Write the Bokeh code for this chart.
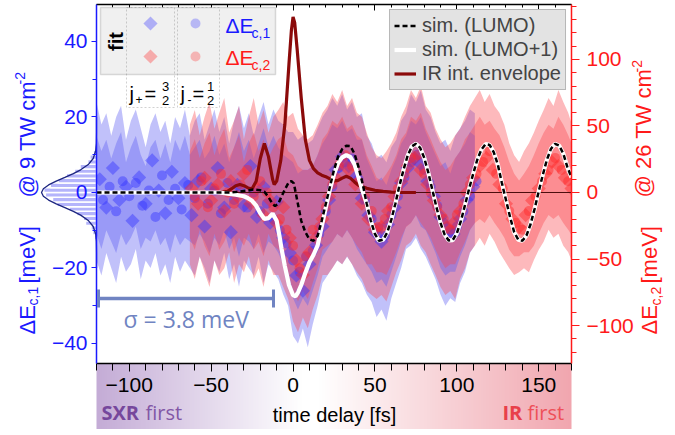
import numpy as np
from bokeh.plotting import figure
from bokeh.models import (Range1d, LinearAxis, SingleIntervalTicker, Legend, LegendItem,
                          BoxAnnotation, Label, Arrow, TeeHead, CustomJSTickFormatter)
from bokeh.layouts import row
from bokeh.embed import file_html
from bokeh.resources import INLINE

# ---------------- data ----------------
sigma_meV = 3.8

# simulation LUMO (left axis, meV)
lumo_t = [-120, -38, -33, -28, -24, -20, -17.5, -15, -12.5, -11,
          -9, -7.5, -5, -2.5, -1, 0.5, 2.5, 5, 7.5, 10,
          12.5, 15, 17.5, 20, 22.5, 25, 27.5, 30, 32.5, 35,
          37.5, 40, 42.5, 45, 47.5, 50, 52.5, 55, 57.5, 60,
          62.5, 65, 67.5, 70, 72.5, 75, 77.5, 80, 82.5, 85,
          87.5, 90, 92.5, 95, 97.5, 100, 102.5, 105, 107.5, 110,
          112.5, 115, 117.5, 120, 122.5, 125, 127.5, 130, 132.5, 135,
          137.5, 140, 142.5, 145, 147.5, 150, 152.5, 155, 157.5, 160,
          162.5, 165, 167.5, 170]
lumo_e = [0, 0, 0.2, 0.5, 0.8, 0.6, 0.2, -1.2, -3.0, -3.6,
          -3.0, -1.5, 0.8, 2.8, 3.0, 2.4, -2.0, -7.5, -10.5, -12.4,
          -12.8, -11.5, -7.5, -3.0, 1.5, 6.0, 9.5, 11.5, 12.4, 12.3,
          10.3, 6.7, 2.3, -3.0, -7.5, -11.0, -12.8, -12.5, -10.6, -7.2,
          -2.9, 1.9, 6.1, 9.8, 12.2, 12.9, 11.9, 9.3, 5.4, 0.8,
          -3.8, -8.0, -11.1, -12.7, -12.6, -10.8, -7.5, -3.3, 1.0, 5.0,
          8.7, 11.4, 12.8, 12.6, 10.7, 7.4, 2.5, -2.0, -6.5, -10.5,
          -12.5, -12.8, -11.4, -8.4, -4.3, 0.3, 4.7, 8.7, 11.6, 12.9,
          12.4, 10.3, 6.7, 4.0]

# simulation LUMO+1 (differs up to 45 fs, coincides afterwards)
lumo1_t_early = [-120, -45, -40, -35, -30, -27.5, -25, -22.5, -20, -17.5,
                 -15, -12.5, -10, -8.5, -7, -5, -2.5, 0, 1.5, 3,
                 5, 7.5, 10, 12.5, 15, 17.5, 20, 22.5, 25, 27.5,
                 30, 32.5, 35, 37.5, 40, 42.5, 45]
lumo1_e_early = [0, 0, -0.3, -0.6, -1.0, -1.5, -2.2, -3.5, -5.5, -7.0,
                 -6.8, -5.6, -7.5, -11.0, -15.0, -19.5, -24.5, -27.2, -27.5, -26.5,
                 -24.5, -21.3, -18.5, -16.5, -14.0, -9.0, -4.0, 0.8, 4.8, 7.8,
                 9.3, 9.9, 9.4, 7.5, 4.0, 0.3, -3.0]
lumo1_t = lumo1_t_early + [t for t in lumo_t if t > 45]
lumo1_e = lumo1_e_early + [e for t, e in zip(lumo_t, lumo_e) if t > 45]

# IR intensity envelope (arb. units on left scale)
ir_t = [-45, -40, -37.5, -35, -32.5, -30, -27.5, -25, -22.5, -20,
        -17.5, -15, -12.5, -11.5, -10, -7.5, -5, -2.5, -1, 0,
        1, 2.5, 5, 7.5, 10, 12.5, 15, 17.5, 20, 22.5,
        25, 27.5, 30, 32.5, 35, 37.5, 40, 45, 50, 55,
        60, 65, 75]
ir_v = [0, 0.3, 1.0, 1.8, 2.1, 1.8, 1.2, 1.0, 3.0, 9.0,
        13.0, 9.5, 3.5, 2.1, 3.0, 8.5, 18.0, 34.0, 43.0, 46.5,
        45.0, 38.0, 25.0, 14.0, 8.5, 6.3, 5.2, 4.6, 4.2, 3.6,
        3.1, 3.2, 3.8, 4.3, 3.8, 2.8, 1.9, 1.1, 0.6, 0.3,
        0.1, 0.05, 0]

# measured dE_c,1 (left axis) - j+ fit (diamonds) and j- fit (circles)
b_dia_t = [-118, -114, -110, -106, -102, -98, -94, -90, -86, -82,
           -78, -74, -70, -66, -62, -58, -54, -50, -46, -42,
           -38, -34, -30, -26, -22, -18, -14, -10, -6, -2,
           2, 6, 10, 14, 18, 22, 26, 30, 34, 38,
           42, 46, 50, 54, 58, 62, 66, 70, 74, 78,
           82, 86, 90, 94, 98, 102, 106, 110]
b_dia_e = [3.5, -4.0, 6.5, -2.0, 1.5, -7.5, 4.0, -3.0, 8.5, 0.5,
           -5.5, 5.5, -1.5, 2.5, -6.0, 3.0, -9.0, 1.0, 6.5, -4.0,
           -10.5, 2.0, -3.5, 7.0, -6.5, 1.5, -8.0, -2.5, -12.0, -16.0,
           -22.0, -26.0, -19.0, -14.0, -9.0, -2.0, 6.0, 9.5, 7.0, 4.0,
           -1.5, -6.0, -10.5, -13.0, -8.5, -4.0, 2.5, 6.5, 9.0, 7.5,
           3.0, -1.0, -6.5, -9.5, -11.0, -7.0, -2.0, 1.5]
b_cir_t = [-116, -112, -108, -104, -100, -96, -92, -88, -84, -80,
           -76, -72, -68, -64, -60, -56, -52, -48, -44, -40,
           -36, -32, -28, -24, -20, -16, -12, -8, -4, 0,
           4, 8, 12, 16, 20, 24, 28, 32, 36, 40,
           44, 48, 52, 56, 60, 64, 68, 72, 76, 80,
           84, 88, 92, 96, 100, 104, 108, 112]
b_cir_e = [-2.0, 1.5, -5.0, 3.0, -1.0, 2.5, -3.5, 0.5, -6.5, 4.5,
           -2.0, 1.0, -4.5, 2.0, -1.5, 4.0, -3.0, 0.5, -5.5, 2.5,
           -2.0, 1.0, -4.0, 0.0, -5.0, -3.0, -7.0, -10.0, -13.5, -18.0,
           -21.0, -17.0, -15.5, -11.0, -5.0, 1.5, 6.5, 8.0, 9.0, 3.5,
           -2.0, -7.0, -9.5, -11.5, -6.0, -1.0, 4.0, 8.0, 10.0, 6.0,
           1.5, -3.5, -8.0, -10.5, -9.0, -5.0, -1.0, 3.0]

# measured dE_c,2 (right axis)
r_dia_t = [-62, -58, -54, -50, -46, -42, -38, -34, -30, -26,
           -22, -18, -14, -10, -6, -2, 2, 6, 10, 14,
           18, 22, 26, 30, 34, 38, 42, 46, 50, 54,
           58, 62, 66, 70, 74, 78, 82, 86, 90, 94,
           98, 102, 106, 110, 114, 118, 122, 126, 130, 134,
           138, 142, 146, 150, 154, 158, 162, 166, 170]
r_dia_e = [3, -8.5, 11, -6, 6, -14, 8.5, -3, 14, -8.5,
           3, -17, -6, -23, -11, -34, -51, -62, -45, -34,
           -20, -3, 11, 23, 17, 6, -8.5, -20, -28, -26,
           -14, -3, 8.5, 20, 26, 17, 6, -6, -17, -26,
           -23, -14, 0, 11, 20, 26, 17, 6, -8.5, -20,
           -26, -17, -6, 3, 14, 23, 20, 11, 3]
r_cir_t = [-60, -56, -52, -48, -44, -40, -36, -32, -28, -24,
           -20, -16, -12, -8, -4, 0, 4, 8, 12, 16,
           20, 24, 28, 32, 36, 40, 44, 48, 52, 56,
           60, 64, 68, 72, 76, 80, 84, 88, 92, 96,
           100, 104, 108, 112, 116, 120, 124, 128, 132, 136,
           140, 144, 148, 152, 156, 160, 164, 168]
r_cir_e = [-3, 8.5, -11, 3, 14, 0, -8.5, 6, 17, -3,
           8.5, 0, -11, -20, -28, -40, -57, -48, -28, -26,
           -11, 6, 20, 28, 20, 8.5, -3, -14, -26, -20,
           -11, 3, 14, 26, 28, 14, 0, -11, -20, -28,
           -17, -8.5, 6, 14, 23, 31, 14, 3, -14, -23,
           -28, -14, -3, 8.5, 17, 26, 17, 8.5]

# confidence bands dE_c,1 (left axis)
band_b_t = [-120, -117, -114, -111, -108, -105, -102, -99, -96, -93,
            -90, -87, -84, -81, -78, -75, -72, -69, -66, -63,
            -60, -57, -54, -51, -48, -45, -42, -39, -36, -33,
            -30, -27, -24, -21, -18, -15, -12, -9, -6, -3,
            0, 3, 6, 9, 12, 15, 18, 21, 24, 27,
            30, 33, 36, 39, 42, 45, 48, 51, 54, 57,
            60, 63, 66, 69, 72, 75, 78, 81, 84, 87,
            90, 93, 96, 99, 102, 105, 108, 111]
band_b_out_hi = [24, 18, 21, 15, 20, 23, 14, 19, 22, 17, 12, 18, 21, 16, 19, 13, 20, 17, 22, 15,
                 19, 21, 14, 18, 22, 16, 20, 13, 19, 23, 17, 21, 15, 20, 24, 18, 22,
                 19, 18, 16, 16, 14, 15, 13, 14, 17, 20, 22, 25, 23, 26, 22, 24, 20, 21, 15, 13,
                 9, 10, 8, 12, 14, 19, 21, 26, 24, 27, 22, 20, 16, 13, 14, 11, 15, 17, 19, 22, 21]
band_b_out_lo = [-18, -22, -16, -20, -24, -17, -21, -19, -15, -23, -18, -20, -16, -22, -19, -24, -17, -21, -18, -20,
                 -22, -17, -20, -24, -18, -21, -16, -23, -19, -25, -18, -20, -22, -17, -24, -19, -21,
                 -23, -27, -30, -38, -40, -36, -41, -35, -30, -24, -22, -20, -18, -19, -17, -19, -22, -24, -27, -29,
                 -33, -31, -34, -28, -24, -20, -15, -14, -12, -15, -17, -20, -23, -27, -30, -28, -29, -24, -21, -16, -14]
band_b_in_hi = [15, 11, 14, 9, 13, 16, 8, 12, 15, 10, 7, 12, 14, 9, 13, 8, 14, 11, 15, 10,
                12, 14, 9, 11, 15, 10, 13, 8, 12, 16, 11, 14, 9, 13, 17, 12, 15,
                12, 10, 9, 8, 5, 6, 6, 7, 10, 13, 15, 18, 17, 19, 16, 17, 14, 14, 9, 6,
                3, 4, 2, 6, 9, 13, 15, 19, 18, 20, 16, 13, 10, 7, 8, 5, 9, 11, 13, 16, 15]
band_b_in_lo = [-11, -15, -10, -13, -16, -11, -14, -12, -9, -15, -12, -13, -10, -14, -12, -16, -11, -14, -12, -13,
                -14, -11, -13, -16, -12, -14, -10, -15, -12, -17, -12, -13, -15, -11, -16, -13, -14,
                -16, -19, -22, -28, -31, -28, -30, -26, -22, -17, -15, -13, -11, -12, -10, -12, -15, -17, -19, -21,
                -24, -23, -25, -21, -17, -13, -9, -8, -6, -9, -10, -13, -16, -20, -22, -21, -21, -17, -14, -10, -8]

# confidence bands dE_c,2 (right axis)
band_r_t = [-63, -60, -57, -54, -51, -48, -45, -42, -39, -36,
            -33, -30, -27, -24, -21, -18, -15, -12, -9, -6,
            -3, 0, 3, 6, 9, 12, 15, 18, 21, 24,
            27, 30, 33, 36, 39, 42, 45, 48, 51, 54,
            57, 60, 63, 66, 69, 72, 75, 78, 81, 84,
            87, 90, 93, 96, 99, 102, 105, 108, 111, 114,
            117, 120, 123, 126, 129, 132, 135, 138, 141, 144,
            147, 150, 153, 156, 159, 162, 165, 168, 171]
band_r_out_hi = [51, 62, 43, 57, 68, 48, 60, 71, 45, 54, 65, 40, 57, 71, 51, 62, 45, 57,
                 62, 68, 57, 60, 48, 43, 40, 43, 51, 60, 65, 74, 68, 77, 65, 71, 60, 57, 45, 34,
                 28, 26, 31, 37, 45, 57, 65, 77, 71, 80, 65, 60, 48, 40, 34, 37, 43, 48, 57, 65,
                 71, 77, 68, 74, 65, 60, 51, 37, 28, 23, 31, 37, 45, 54, 62, 71, 65, 77, 68, 60, 48]
band_r_out_lo = [-54, -65, -48, -60, -71, -51, -62, -57, -45, -68, -54, -60, -48, -65, -57, -71, -51, -62,
                 -62, -71, -80, -97, -105, -94, -102, -88, -77, -62, -62, -57, -51, -54, -48, -54, -60, -65, -74, -77,
                 -80, -77, -82, -71, -60, -51, -40, -37, -31, -40, -45, -54, -62, -71, -77, -74, -80, -65, -57, -45,
                 -40, -34, -40, -31, -37, -45, -51, -57, -62, -60, -57, -60, -51, -43, -37, -28, -34, -31, -40, -45, -54]
band_r_in_hi = [31, 40, 26, 37, 45, 28, 40, 48, 26, 34, 43, 23, 37, 45, 31, 40, 26, 34,
                40, 43, 31, 28, 20, 17, 17, 20, 28, 40, 45, 54, 51, 57, 48, 51, 43, 40, 28, 20,
                11, 9, 14, 20, 28, 40, 45, 57, 54, 60, 48, 40, 31, 23, 17, 20, 26, 31, 40, 45,
                51, 57, 51, 54, 48, 43, 34, 23, 14, 9, 14, 20, 28, 37, 45, 51, 48, 57, 51, 43, 34]
band_r_in_lo = [-34, -43, -28, -40, -48, -31, -43, -37, -28, -45, -34, -40, -31, -43, -37, -48, -31, -40,
                -43, -51, -60, -74, -82, -74, -80, -68, -57, -43, -40, -37, -31, -34, -28, -34, -40, -45, -54, -54,
                -60, -60, -62, -54, -45, -34, -26, -23, -17, -23, -28, -34, -43, -51, -57, -54, -54, -45, -37, -28,
                -23, -20, -23, -17, -23, -28, -34, -43, -48, -48, -45, -45, -40, -31, -23, -17, -20, -17, -23, -28, -34]

# histogram of dE_c,1 before time zero (normalised counts)
hist_e = [-11.875, -10.625, -9.375, -8.125, -6.875, -5.625, -4.375, -3.125, -1.875, -0.625,
          0.625, 1.875, 3.125, 4.375, 5.625, 6.875, 8.125, 9.375, 10.625, 11.875]
hist_n = [0.04, 0.07, 0.1, 0.2, 0.24, 0.36, 0.5, 0.72, 0.8, 0.93,
          0.96, 0.84, 0.7, 0.55, 0.4, 0.3, 0.16, 0.12, 0.06, 0.03]
# gaussian fit (sigma = 3.8 meV), normalised
gauss_e = [-20, -16, -13, -11, -9, -7.5, -6, -5, -4, -3, -2, -1, 0,
           1, 2, 3, 4, 5, 6, 7.5, 9, 11, 13, 16, 20]
gauss_n = [0.0, 0.0001, 0.003, 0.015, 0.060, 0.143, 0.288, 0.421, 0.575, 0.732, 0.871, 0.966, 1.0,
           0.966, 0.871, 0.732, 0.575, 0.421, 0.288, 0.143, 0.060, 0.015, 0.003, 0.0001, 0.0]

# ---------------- geometry ----------------
X0, X1 = -120, 170
Y0, Y1 = -45.3, 49.8
RATIO = 2.838
W, H = 669, 429
FL, FT, FW, FH = 96, 4, 475, 359
FR = W - FL - FW
FBm = H - FT - FH
sx = (X1 - X0) / FW
sy = (Y1 - Y0) / FH
HIST_PX = 55.0

REF_L, REF_R, REF_T, REF_B = 98, 573, 5, 364
def rx(px):
    return X0 + (px - REF_L) * (X1 - X0) / (REF_R - REF_L)
def ry(py):
    return Y1 - (py - REF_T) * (Y1 - Y0) / (REF_B - REF_T)

SANS = "Liberation Sans"
OPEN = "Open Sans"
BLUE = "#1a1aff"
RED = "#ff1a1a"

def put(fig, text, px, py, size, color, font=SANS, style="normal", angle=0.0,
        align="left", baseline="middle"):
    fig.add_layout(Label(x=rx(px), y=ry(py), text=text, text_font=font,
                         text_font_size=f"{size}px", text_color=color,
                         text_font_style=style, angle=angle,
                         text_align=align, text_baseline=baseline))

# ---------------- underlay figure (decorations outside the frame) ----------------
A = figure(width=W, height=H, x_range=Range1d(X0 - FL * sx, X1 + FR * sx),
           y_range=Range1d(Y0 - FBm * sy, Y1 + FT * sy),
           x_axis_location=None, y_axis_location=None,
           toolbar_location=None, output_backend="svg", min_border=0)
A.min_border_left = A.min_border_right = A.min_border_top = A.min_border_bottom = 0
A.frame_align = False
A.grid.visible = False
A.outline_line_color = None
A.background_fill_color = "white"
A.border_fill_color = "white"
A.extra_x_ranges = {"hist": Range1d(FL / HIST_PX, -(W - FL) / HIST_PX)}

# gradient under the time axis
N = 290
img = np.zeros((1, N), dtype=np.uint32)
view = img.view(dtype=np.uint8).reshape((1, N, 4))
Lc = np.array([196, 172, 214.0])
Wc = np.array([255, 255, 255.0])
Rc = np.array([241, 166, 175.0])
for i in range(N):
    f = (i + 0.5) / N
    if f < 0.43:
        t = f / 0.43
        c = Lc * (1 - t) + Wc * t
    elif f < 0.47:
        c = Wc
    else:
        t = (f - 0.47) / 0.53
        c = Wc * (1 - t) + Rc * t
    view[0, i, 0:3] = c.astype(np.uint8)
    view[0, i, 3] = 255
A_ybot = Y0 - FBm * sy
A.image_rgba(image=[img], x=X0, y=A_ybot, dw=X1 - X0, dh=Y0 - A_ybot)

# histogram + gaussian
A.hbar(y=hist_e, left=0, right=hist_n, height=1.25, x_range_name="hist",
       fill_color="#b4b4fb", line_color="white", line_width=1.5)
A.line(x=gauss_n, y=gauss_e, x_range_name="hist", line_color="#1c2580", line_width=1.3)

# axis titles
put(A, "ΔE", 28.5, 335, 22, BLUE, angle=np.pi / 2)
put(A, "c,1", 34, 306, 14, BLUE, angle=np.pi / 2)
put(A, "[meV]", 28.5, 284, 22, BLUE, angle=np.pi / 2)
put(A, "@ 9 TW cm", 28.5, 198, 22, BLUE, angle=np.pi / 2)
put(A, "-2", 21.5, 85, 14, BLUE, angle=np.pi / 2)

put(A, "ΔE", 651, 335, 22, RED, angle=np.pi / 2)
put(A, "c,2", 657, 306, 14, RED, angle=np.pi / 2)
put(A, "[meV]", 651, 284, 22, RED, angle=np.pi / 2)
put(A, "@ 26 TW cm", 645, 198, 22, RED, angle=np.pi / 2)
put(A, "-2", 638, 73, 14, RED, angle=np.pi / 2)

put(A, "time delay [fs]", 336, 415, 20, "black", align="center")
put(A, "SXR", 103, 413, 20, "#76479c", font=OPEN, style="bold")
put(A, "first", 147, 413, 20, "#8257a6", font=OPEN)
put(A, "IR", 504, 413, 20, "#e8404a", font=OPEN, style="bold")
put(A, "first", 529, 413, 20, "#ee5058", font=OPEN)

# ---------------- main figure ----------------
B = figure(width=W, height=H, x_range=Range1d(X0, X1), y_range=Range1d(Y0, Y1),
           toolbar_location=None, output_backend="svg",
           min_border_left=FL, min_border_right=FR, min_border_top=FT, min_border_bottom=FBm)
B.frame_align = False
B.extra_y_ranges = {"r": Range1d(Y0 * RATIO, Y1 * RATIO)}
B.grid.visible = False
B.outline_line_color = None
B.background_fill_alpha = 0
B.border_fill_alpha = 0
B.margin = (0, 0, 0, -W)

xa = B.xaxis[0]
xa.ticker = SingleIntervalTicker(interval=50, num_minor_ticks=5)
xa.axis_line_color = "black"; xa.axis_line_width = 1.5
xa.major_tick_line_color = "black"; xa.minor_tick_line_color = "black"
xa.major_tick_out = 8; xa.major_tick_in = 0; xa.minor_tick_out = 7; xa.minor_tick_in = 0
xa.major_label_text_font = SANS; xa.major_label_text_font_size = "21px"
xa.major_label_text_color = "black"; xa.major_label_standoff = 6

ya = B.yaxis[0]
ya.ticker = SingleIntervalTicker(interval=20, num_minor_ticks=2)
ya.axis_line_color = BLUE; ya.axis_line_width = 1.5
ya.major_tick_line_color = BLUE; ya.minor_tick_line_color = BLUE
ya.major_tick_out = 5; ya.major_tick_in = 0; ya.minor_tick_out = 4; ya.minor_tick_in = 0
ya.major_label_text_font = SANS; ya.major_label_text_font_size = "21px"
ya.major_label_text_color = BLUE; ya.major_label_standoff = 4

ra = LinearAxis(y_range_name="r", ticker=SingleIntervalTicker(interval=50, num_minor_ticks=5),
                axis_line_color=RED, axis_line_width=1.5,
                major_tick_line_color=RED, minor_tick_line_color=RED,
                major_tick_out=8, major_tick_in=0, minor_tick_out=5, minor_tick_in=0,
                major_label_text_font=SANS, major_label_text_font_size="21px",
                major_label_text_color=RED, major_label_standoff=7)
B.add_layout(ra, "right")

ta = LinearAxis(ticker=SingleIntervalTicker(interval=50, num_minor_ticks=5),
                axis_line_color="black", axis_line_width=1.5,
                major_tick_line_color="black", minor_tick_line_color="black",
                major_tick_out=0, major_tick_in=6, minor_tick_out=0, minor_tick_in=3,
                formatter=CustomJSTickFormatter(code="return ''"),
                major_label_standoff=0)
B.add_layout(ta, "above")

# bands (interleaved so that the overlap turns mauve)
BCOL, RCOL = "#5c5cf2", "#fa4650"
BA = RA = 0.38
B.varea(x=band_b_t, y1=band_b_out_lo, y2=band_b_out_hi, fill_color=BCOL, fill_alpha=BA)
B.varea(x=band_r_t, y1=band_r_out_lo, y2=band_r_out_hi, fill_color=RCOL, fill_alpha=RA,
        y_range_name="r")
B.varea(x=band_b_t, y1=band_b_in_lo, y2=band_b_in_hi, fill_color=BCOL, fill_alpha=BA)
B.varea(x=band_r_t, y1=band_r_in_lo, y2=band_r_in_hi, fill_color=RCOL, fill_alpha=RA,
        y_range_name="r")

# scatter
MB, MR = "#3535ff", "#ff2a2a"
B.scatter(x=b_dia_t, y=b_dia_e, marker="square", angle=np.pi / 4, size=10,
          fill_color=MB, fill_alpha=0.45, line_color=None)
B.scatter(x=b_cir_t, y=b_cir_e, marker="circle", size=10,
          fill_color=MB, fill_alpha=0.45, line_color=None)
B.scatter(x=r_dia_t, y=r_dia_e, marker="square", angle=np.pi / 4, size=10,
          fill_color=MR, fill_alpha=0.45, line_color=None, y_range_name="r")
B.scatter(x=r_cir_t, y=r_cir_e, marker="circle", size=10,
          fill_color=MR, fill_alpha=0.45, line_color=None, y_range_name="r")

# curves
B.line(x=[ir_t[0], X1], y=[0, 0], line_color="#4a0c0c", line_width=1)
r_ir = B.line(x=ir_t, y=ir_v, line_color="#8b0a0a", line_width=3.2)
r_l1 = B.line(x=lumo1_t, y=lumo1_e, line_color="white", line_width=4.2)
r_l0 = B.line(x=lumo_t, y=lumo_e, line_color="black", line_width=2.5, line_dash="5 3")

leg = Legend(items=[LegendItem(label="sim. (LUMO)", renderers=[r_l0]),
                    LegendItem(label="sim. (LUMO+1)", renderers=[r_l1]),
                    LegendItem(label="IR int. envelope", renderers=[r_ir])],
             location="top_right", label_text_font=SANS, label_text_font_size="20px",
             background_fill_color="#e3e3e3", background_fill_alpha=1,
             border_line_color="#8c8c8c", border_line_width=1,
             padding=4, spacing=1, margin=5, label_height=23, glyph_height=23,
             glyph_width=22, label_standoff=6)
B.add_layout(leg)

# left "fit" legend
B.add_layout(BoxAnnotation(left=rx(102), right=rx(277), top=ry(8), bottom=ry(75),
                           fill_color="#f0f0f0", fill_alpha=1,
                           line_color="#8c8c8c", line_width=1.5))
for l, r in ((128, 176), (179, 221)):
    B.add_layout(BoxAnnotation(left=rx(l), right=rx(r), top=ry(8), bottom=ry(108),
                               fill_alpha=0, line_color="#666666", line_width=1,
                               line_dash="2 2"))
B.scatter(x=[rx(152), rx(152)], y=[ry(24), ry(57)], marker="square", angle=np.pi / 4,
          size=10, fill_color=[MB, MR], fill_alpha=0.35, line_color=None, level="overlay")
B.scatter(x=[rx(197), rx(197)], y=[ry(24), ry(57)], marker="circle",
          size=10, fill_color=[MB, MR], fill_alpha=0.3, line_color=None, level="overlay")
put(B, "fit", 117, 42, 20, "black", style="bold", angle=np.pi / 2, align="center")
put(B, "ΔE", 227, 26, 21, BLUE)
put(B, "c,1", 253, 33, 14, BLUE)
put(B, "ΔE", 227, 58, 21, RED)
put(B, "c,2", 253, 65, 14, RED)
put(B, "j", 131, 94, 20, "black")
put(B, "+", 137, 100, 12, "black")
put(B, "=", 146, 94, 20, "black")
put(B, "3", 167, 87, 13, "black", align="center")
put(B, "2", 167, 101, 13, "black", align="center")
put(B, "j", 182, 94, 20, "black")
put(B, "-", 189, 100, 12, "black")
put(B, "=", 194, 94, 20, "black")
put(B, "1", 212, 87, 13, "black", align="center")
put(B, "2", 212, 101, 13, "black", align="center")

# sigma bar
SCOL = "#7084c2"
B.add_layout(Arrow(start=TeeHead(size=18, line_color=SCOL, line_width=3),
                   end=TeeHead(size=18, line_color=SCOL, line_width=3),
                   x_start=rx(100), y_start=ry(299), x_end=rx(275), y_end=ry(299),
                   line_color=SCOL, line_width=3.5))
put(B, f"σ = {sigma_meV} meV", 125, 319, 23, SCOL, font=OPEN)

layout = row(A, B)
open("out.html", "w").write(file_html(layout, INLINE))
